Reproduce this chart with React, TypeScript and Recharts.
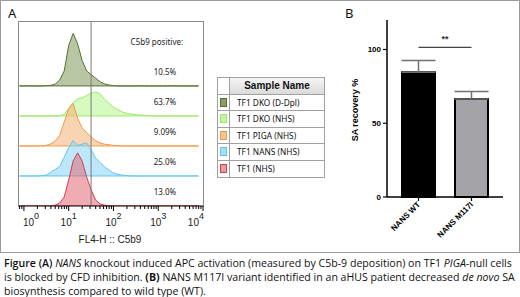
import React from 'react'
import {
  ComposedChart, Area, XAxis, YAxis, ReferenceLine, ReferenceDot,
  BarChart, Bar, Cell, ErrorBar,
} from 'recharts'

// FL4-H bins in log10 decades
const bins = [
  -0.1, 0, 0.1, 0.2, 0.3, 0.4, 0.5, 0.6, 0.7, 0.8, 0.9, 1, 1.1, 1.2, 1.3, 1.4,
  1.5, 1.6, 1.7, 1.8, 1.9, 2, 2.1, 2.2, 2.3, 2.4, 2.5, 2.6, 2.7, 2.8, 2.9, 3,
  3.1, 3.2, 3.3, 3.4, 3.5, 3.6, 3.7, 3.8, 3.9,
]

// normalised counts (one row = 1)
const dkoDpl = [
  0, 0, 0, 0, 0, 0, 0.01, 0.02, 0.06, 0.2, 0.5, 1.35, 1.75, 1.4, 0.85, 0.5,
  0.38, 0.26, 0.14, 0.07, 0.03, 0.01, 0, 0, 0, 0, 0, 0, 0, 0, 0, 0,
  0, 0, 0, 0, 0, 0, 0, 0, 0,
]
const dkoNhs = [
  0, 0, 0, 0, 0, 0, 0, 0, 0, 0.01, 0.05, 0.25, 0.45, 0.57, 0.6, 0.68,
  0.76, 0.8, 0.74, 0.56, 0.42, 0.3, 0.2, 0.13, 0.09, 0.06, 0.04, 0.03, 0.02, 0.01, 0, 0,
  0, 0, 0, 0, 0, 0, 0, 0, 0,
]
const pigaNhs = [
  0, 0, 0, 0, 0, 0, 0.02, 0.07, 0.17, 0.35, 0.8, 1.25, 1.42, 0.92, 0.6, 0.45,
  0.3, 0.18, 0.1, 0.06, 0.04, 0.02, 0.01, 0, 0, 0, 0, 0, 0, 0, 0, 0,
  0, 0, 0, 0, 0, 0, 0, 0, 0,
]
const nansNhs = [
  0, 0, 0, 0, 0, 0.01, 0.03, 0.12, 0.22, 0.32, 0.62, 0.95, 1.18, 1.02, 1.06, 1.1,
  0.88, 0.6, 0.45, 0.3, 0.2, 0.1, 0.05, 0.03, 0.01, 0, 0, 0, 0, 0, 0, 0,
  0, 0, 0, 0, 0, 0, 0, 0, 0,
]
const tf1Nhs = [
  0, 0, 0, 0, 0, 0, 0, 0, 0.03, 0.1, 0.3, 0.87, 1.5, 1.77, 1.5, 0.97,
  0.55, 0.2, 0.07, 0.03, 0.01, 0, 0, 0, 0, 0, 0, 0, 0, 0, 0, 0,
  0, 0, 0, 0, 0, 0, 0, 0, 0,
]

const sampleNames = ['TF1 DKO (D-Dpl)', 'TF1 DKO (NHS)', 'TF1 PIGA (NHS)', 'TF1 NANS (NHS)', 'TF1 (NHS)']
const positives = ['10.5%', '63.7%', '9.09%', '25.0%', '13.0%']
const gate = 1.5
const majorTicks = [0, 1, 2, 3, 4]

// panel B
const groups = ['NANS WT', 'NANS M117I']
const recovery = [84.5, 66.5]
const recoverySd = [8, 5]
const recoveryTicks = [0, 50, 100]

const sampleKeys = ['s0', 's1', 's2', 's3', 's4']
const sampleSeries = [dkoDpl, dkoNhs, pigaNhs, nansNhs, tf1Nhs]
const strokes = ['#56702c', '#9fe86c', '#ef9c48', '#62c5f0', '#dc3a48']
const fills = ['#7e9758', '#b4f58c', '#f4b172', '#86d3f6', '#e26a74']
const swatchFills = ['#8c9c6c', '#c4f7a0', '#f7c493', '#a6def7', '#eb9aa0']

const histData = bins.map((x, i) => {
  const row: Record<string, number> = { x }
  sampleKeys.forEach((k, j) => { row[k] = sampleSeries[j][i] })
  return row
})

const minorTicks: number[] = []
for (let d = -1; d < 4; d++) {
  for (let m = 2; m <= 9; m++) {
    const t = d + Math.log10(m)
    if (t > -0.11 && t < 4) minorTicks.push(t)
  }
}

const barData = groups.map((g, i) => ({ group: g, value: recovery[i], err: [0, recoverySd[i]] }))

const sans = '"Liberation Sans", Arial, sans-serif'
const noto = '"Noto Sans", sans-serif'

function LogTick(props: any) {
  const { x, y, payload } = props
  const v = payload.value
  const major = Math.abs(v - Math.round(v)) < 1e-6
  const exp = Math.round(v)
  let anchor: 'middle' | 'start' | 'end' = 'middle'
  let tx = x
  if (exp === 0 && major) { anchor = 'start'; tx = x - 1 }
  if (exp === 4 && major) { anchor = 'end'; tx = x + 1 }
  return (
    <g>
      <line x1={x} y1={y} x2={x} y2={y + (major ? 5 : 3)} stroke="#000" strokeWidth={1} />
      {major && (
        <text x={tx} y={y + 20} textAnchor={anchor} fontSize={10} fontFamily={sans} fill="#222">
          10<tspan dy={-7} fontSize={9}>{exp}</tspan>
        </text>
      )}
    </g>
  )
}

function GroupTick(props: any) {
  const { x, y, payload } = props
  return (
    <text x={x} y={y} dy={3} textAnchor="end" transform={`rotate(-45 ${x} ${y})`}
      fontSize={8} fontWeight={700} fontFamily={sans} fill="#000">
      {payload.value}
    </text>
  )
}

function Histograms() {
  return (
    <div style={{ position: 'absolute', left: 0, top: 0 }}>
      <div style={{ position: 'absolute', left: 18, top: 21, width: 186, height: 186, boxSizing: 'border-box', border: '1px solid #8a8a8a', borderBottom: 'none' }} />
      <ComposedChart width={210} height={250} data={histData} margin={{ top: 22, left: 19, right: 7, bottom: 0 }}>
        <XAxis dataKey="x" type="number" domain={[-0.11, 4]} allowDataOverflow
          ticks={[...majorTicks, ...minorTicks]} interval={0} tickLine={false} tickSize={0} tickMargin={0}
          tick={<LogTick />} height={44} axisLine={{ stroke: '#000' }} />
        <YAxis hide type="number" domain={[0, 6.13]} allowDataOverflow />
        {sampleKeys.map((k, j) => {
          const base = 4 - j
          return (
            <Area key={k} type="linear" dataKey={(d: any) => [base, base + d[k]]}
              stroke={strokes[j]} strokeWidth={1} fill={fills[j]} fillOpacity={0.55}
              dot={false} activeDot={false} isAnimationActive={false} />
          )
        })}
        <ReferenceLine x={gate} stroke="#7a7a7a" strokeWidth={1} />
        <ReferenceDot x={2.97} y={5.47} r={0} stroke="none" fill="none"
          label={{ value: 'C5b9 positive:', position: 'center', fontSize: 8, fill: '#222', fontFamily: noto }} />
        {positives.map((p, j) => (
          <ReferenceDot key={p} x={3.15} y={4 - j + 0.47} r={0} stroke="none" fill="none"
            label={{ value: p, position: 'center', fontSize: 8, fill: '#222', fontFamily: noto }} />
        ))}
      </ComposedChart>
      <div style={{ position: 'absolute', left: 60, top: 234, width: 100, textAlign: 'center', fontFamily: sans, fontSize: 10, color: '#222' }}>
        FL4-H :: C5b9
      </div>
    </div>
  )
}

function SampleTable() {
  const rowH = 16.4
  return (
    <div style={{ position: 'absolute', left: 217, top: 77, width: 108, border: '1px solid #a0a0a0', boxSizing: 'border-box', background: '#fff' }}>
      <div style={{ display: 'flex', height: 16, borderBottom: '1px solid #a0a0a0' }}>
        <div style={{ width: 11, borderRight: '1px solid #a0a0a0' }} />
        <div style={{ flex: 1, background: 'linear-gradient(#f6f6f6, #dadada)', fontFamily: sans, fontWeight: 700, fontSize: 10, lineHeight: '16px', textAlign: 'center', color: '#111' }}>
          Sample Name
        </div>
      </div>
      {sampleNames.map((n, j) => (
        <div key={n} style={{ display: 'flex', height: rowH, borderBottom: j < sampleNames.length - 1 ? '1px solid #a0a0a0' : 'none', boxSizing: 'border-box' }}>
          <div style={{ width: 11, borderRight: '1px solid #a0a0a0', position: 'relative' }}>
            <div style={{ position: 'absolute', left: 2, top: 3, width: 7, height: 9, boxSizing: 'border-box', border: `1px solid ${strokes[j]}`, background: swatchFills[j] }} />
          </div>
          <div style={{ flex: 1, paddingLeft: 7, fontFamily: noto, fontSize: 8.3, lineHeight: `${rowH - 1}px`, color: '#111', whiteSpace: 'nowrap' }}>
            {n}
          </div>
        </div>
      ))}
    </div>
  )
}

function RecoveryBars() {
  return (
    <div style={{ position: 'absolute', left: 330, top: 0 }}>
      <BarChart width={190} height={252} data={barData} margin={{ top: 20, left: 0, right: 17, bottom: 0 }}>
        <XAxis dataKey="group" padding={{ left: 5, right: 5 }} interval={0} height={55}
          tickSize={4} tickMargin={2} tick={<GroupTick />}
          axisLine={{ stroke: '#000', strokeWidth: 1.5 }} tickLine={{ stroke: '#000', strokeWidth: 1.2 }} />
        <YAxis width={57} type="number" domain={[0, 120]} ticks={recoveryTicks} tickSize={4} tickMargin={2}
          tick={{ fontSize: 8, fontWeight: 700, fill: '#000', fontFamily: sans }}
          axisLine={{ stroke: '#000', strokeWidth: 1.5 }} tickLine={{ stroke: '#000', strokeWidth: 1.2 }} />
        <Bar dataKey="value" barSize={33} stroke="#000" strokeWidth={2} isAnimationActive={false}>
          {barData.map((d, i) => <Cell key={d.group} fill={i === 0 ? '#000' : '#a3a3a8'} />)}
          <ErrorBar dataKey="err" direction="y" width={17} stroke="#707070" strokeWidth={1.5} isAnimationActive={false} />
        </Bar>
        <ReferenceLine segment={[{ x: groups[0], y: 101.5 }, { x: groups[1], y: 101.5 }]} stroke="#444" strokeWidth={1.2}
          label={{ value: '**', position: 'top', fontSize: 9, fontWeight: 700, fill: '#333', fontFamily: sans }} />
      </BarChart>
      <div style={{ position: 'absolute', left: 25 - 50, top: 110 - 6, width: 100, textAlign: 'center', transform: 'rotate(-90deg)', fontFamily: sans, fontWeight: 700, fontSize: 9, lineHeight: '12px', color: '#000', whiteSpace: 'nowrap' }}>
        SA recovery %
      </div>
    </div>
  )
}

export default function App() {
  return (
    <div style={{ position: 'absolute', left: 0, top: 0, width: 520, height: 297, background: '#fff', overflow: 'hidden' }}>
      <div style={{ position: 'absolute', left: 0, top: 0, width: 520, height: 253, boxSizing: 'border-box', border: '1px solid #9b9b9b' }} />
      <div style={{ position: 'absolute', left: 8, top: 4, fontFamily: noto, fontSize: 13, color: '#111' }}>A</div>
      <div style={{ position: 'absolute', left: 345, top: 4, fontFamily: noto, fontSize: 13, color: '#111' }}>B</div>
      <Histograms />
      <SampleTable />
      <RecoveryBars />
      <div style={{ position: 'absolute', left: 4, top: 256, fontFamily: '"Open Sans", sans-serif', fontSize: 10.6, lineHeight: '14px', color: '#111', whiteSpace: 'nowrap' }}>
        <span style={{ fontWeight: 600 }}>Figure (A)</span> <i>NANS</i> knockout induced APC activation (measured by C5b-9 deposition) on TF1 <i>PIGA</i>-null cells<br />
        is blocked by CFD inhibition. <span style={{ fontWeight: 700 }}>(B)</span> NANS M117I variant identified in an aHUS patient decreased <i>de novo</i> SA<br />
        biosynthesis compared to wild type (WT).
      </div>
    </div>
  )
}
